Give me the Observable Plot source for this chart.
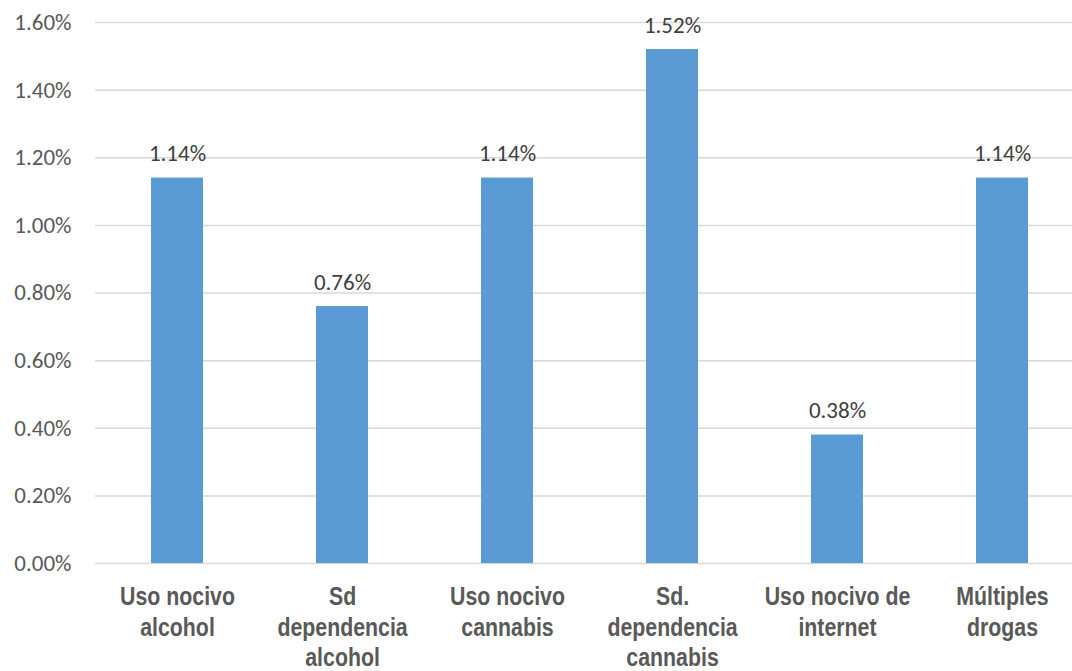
<!DOCTYPE html>
<html>
<head>
<meta charset="utf-8">
<script src="https://cdn.jsdelivr.net/npm/d3@7"></script>
<script src="https://cdn.jsdelivr.net/npm/@observablehq/plot@0.6"></script>
<style>
  html, body { margin: 0; padding: 0; background: #fff; }
  #chart svg { display: block; overflow: visible; }
</style>
</head>
<body>
<div id="chart"></div>
<script>
const categories = [
  "Uso nocivo alcohol",
  "Sd dependencia alcohol",
  "Uso nocivo cannabis",
  "Sd. dependencia cannabis",
  "Uso nocivo de internet",
  "Múltiples drogas"
];
const tickLabels = [
  "Uso nocivo\nalcohol",
  "Sd\ndependencia\nalcohol",
  "Uso nocivo\ncannabis",
  "Sd.\ndependencia\ncannabis",
  "Uso nocivo de\ninternet",
  "Múltiples\ndrogas"
];
const values = [0.0114, 0.0076, 0.0114, 0.0152, 0.0038, 0.0114];
const yTicks = [0, 0.002, 0.004, 0.006, 0.008, 0.010, 0.012, 0.014, 0.016];

const data = categories.map((c, i) => ({category: c, value: values[i], label: tickLabels[i]}));
const labelOf = new Map(data.map(d => [d.category, d.label]));
const pct = d3.format(".2%");

const W = 1072, H = 671;
const chart = Plot.plot({
  width: W,
  height: H,
  marginLeft: 95,
  marginRight: 0,
  marginTop: 22,
  marginBottom: 108,
  style: {background: "#fff", overflow: "visible"},
  x: {domain: categories, paddingInner: 0.687, paddingOuter: 0.3435, insetLeft: -2, insetRight: -13, label: null},
  y: {domain: [0, 0.016], label: null},
  marks: [
    Plot.gridY(yTicks, {stroke: "#D9D9D9", strokeOpacity: 1, strokeWidth: 1.5}),
    Plot.axisY({
      ticks: yTicks,
      tickFormat: pct,
      tickSize: 0,
      tickPadding: 24,
      label: null,
      fontSize: 23,
      fontFamily: "Carlito, Calibri, Lato, sans-serif",
      fill: "#595959"
    }),
    Plot.barY(data, {x: "category", y: "value", fill: "#5B9BD5"}),
    Plot.text(data, {
      x: "category", y: "value", text: d => pct(d.value),
      dy: -24, fontSize: 23, fill: "#404040",
      fontFamily: "Carlito, Calibri, Lato, sans-serif"
    }),
    Plot.axisX({
      tickFormat: d => labelOf.get(d),
      tickSize: 0,
      tickPadding: 20,
      label: null,
      fontSize: 26,
      fontWeight: "bold",
      lineHeight: 1.17,
      fontFamily: "'Liberation Sans', Arial, sans-serif",
      fill: "#595959"
    })
  ]
});
document.getElementById("chart").appendChild(chart);
// condense the category labels horizontally (Arial Narrow look)
const flat = new Set(tickLabels.map(s => s.split("\n").join("")));
chart.querySelectorAll("text").forEach(function(t) {
  if (!flat.has(t.textContent)) return;
  const b = t.getBBox();
  const cx = b.x + b.width / 2;
  const prev = t.getAttribute("transform") || "";
  t.setAttribute("transform", prev + ` translate(${cx},0) scale(0.82,1) translate(${-cx},0)`);
});
</script>
</body>
</html>
